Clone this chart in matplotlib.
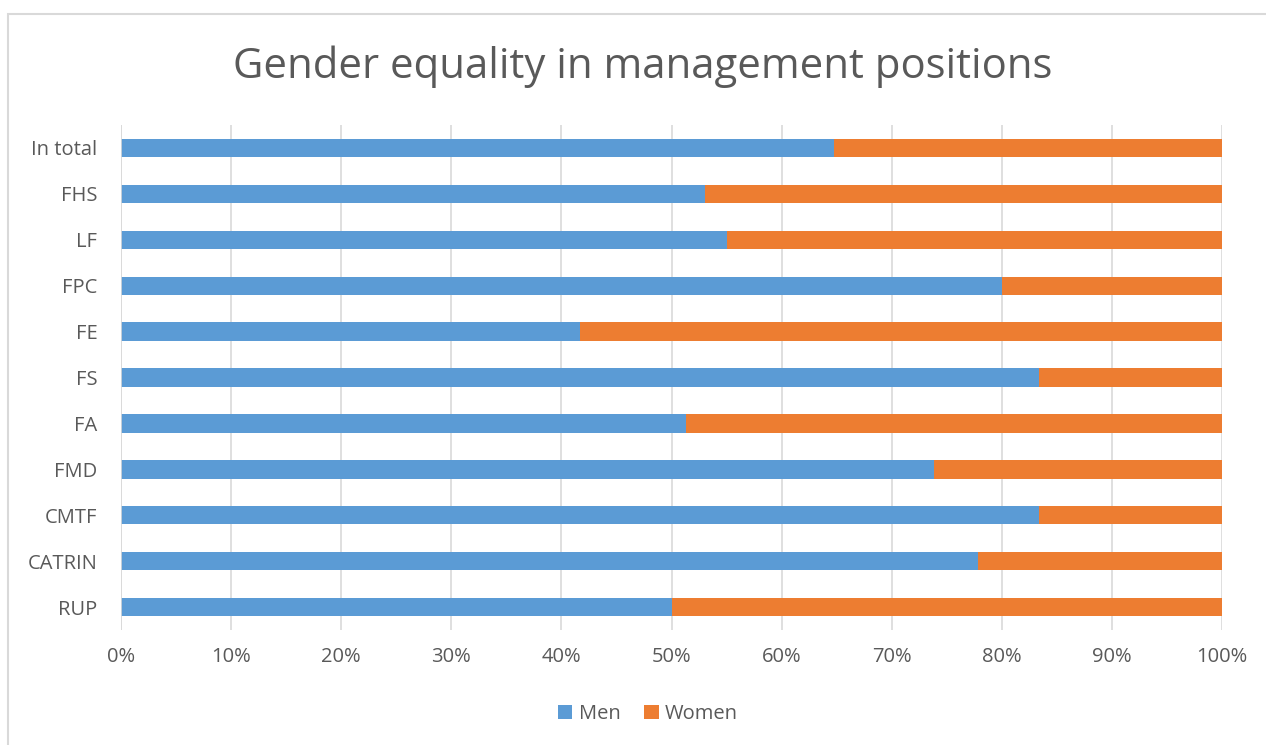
import matplotlib.pyplot as plt
from matplotlib.patches import Rectangle

plt.rcParams['font.family'] = ['Open Sans', 'DejaVu Sans']

categories = ["RUP", "CATRIN", "CMTF", "FMD", "FA", "FS", "FE", "FPC", "LF", "FHS", "In total"]
men = [50.0, 77.8, 83.4, 73.8, 51.3, 83.4, 41.7, 80.0, 55.0, 53.0, 64.8]
women = [100 - m for m in men]

blue = "#5B9BD5"
orange = "#ED7D31"
txt = "#595959"

fig = plt.figure(figsize=(12.66, 7.45), dpi=100)
fig.patches.append(Rectangle((8 / 1266, -0.01), 1.0, 1 - 14 / 745 + 0.01, transform=fig.transFigure,
                             fill=False, edgecolor="#D9D9D9", linewidth=1.5))
ax = fig.add_axes([121 / 1266, 1 - 630 / 745, (1222 - 121) / 1266, (630 - 125) / 745])

y = range(len(categories))
ax.barh(y, men, height=0.4, color=blue, label="Men", zorder=3)
ax.barh(y, women, left=men, height=0.4, color=orange, label="Women", zorder=3)

ax.set_xlim(0, 100)
ax.set_ylim(-0.5, len(categories) - 0.5)
ax.set_yticks(list(y))
ax.set_yticklabels(categories)
ax.set_xticks(range(0, 101, 10))
ax.set_xticklabels([f"{v}%" for v in range(0, 101, 10)])
ax.tick_params(axis="both", length=0, labelsize=14.5, colors=txt)
ax.tick_params(axis="x", pad=12)
ax.tick_params(axis="y", pad=17)
ax.grid(axis="x", color="#D9D9D9", linewidth=1.2, zorder=0)
for s in ax.spines.values():
    s.set_visible(False)
ax.axvline(0, color="#D9D9D9", linewidth=1.2, zorder=4)

fig.text(643 / 1266, 1 - 67 / 745, "Gender equality in management positions", ha="center", va="center",
         fontsize=30.2, color=txt)
fig.legend(loc="center", bbox_to_anchor=(648 / 1266, 1 - 714 / 745), ncol=2, frameon=False,
           fontsize=14.5, labelcolor=txt, handlelength=0.7, handleheight=0.7, handletextpad=0.3,
           columnspacing=1.2)

fig.savefig("out.png", dpi=100)
